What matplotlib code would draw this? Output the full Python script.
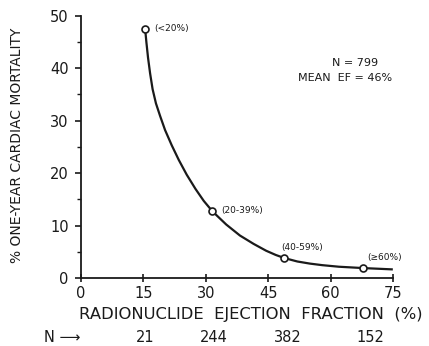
import matplotlib
matplotlib.use("Agg")
import matplotlib.pyplot as plt
from matplotlib.ticker import MultipleLocator

############################################
# DATA
############################################

# fitted curve, sampled by eye along the drawn line
curve_ef = [15.4, 15.7, 16.1, 16.6, 17.2, 18.0, 19.0, 20.2, 21.8, 23.5, 25.4,
            27.5, 29.5, 31.6, 34.9, 38.2, 41.5, 44.5, 46.8, 48.9, 52.0,
            55.0, 58.0, 62.0, 67.7, 74.7]
curve_mort = [47.5, 45.0, 42.0, 39.0, 36.0, 33.3, 30.9, 28.2, 25.3, 22.5, 19.7,
              17.0, 14.7, 12.7, 10.2, 8.1, 6.5, 5.2, 4.4, 3.8, 3.15,
              2.75, 2.45, 2.15, 1.9, 1.65]

# group means (open circles)
group_ef = [15.4, 31.6, 48.9, 67.7]
group_mort = [47.5, 12.7, 3.8, 1.9]
group_labels = ["(<20%)", "(20-39%)", "(40-59%)", "(\u226560%)"]
group_n = ["21", "244", "382", "152"]
n_label_x = [15.4, 31.8, 49.8, 69.5]

x_ticks = [0, 15, 30, 45, 60, 75]
y_ticks = [0, 10, 20, 30, 40, 50]

############################################
# PLOT
############################################

ink = "#1a1a1a"
plt.rcParams["font.family"] = ["DejaVu Sans"]

fig = plt.figure(figsize=(4.29, 3.46), dpi=100)
ax = fig.add_axes([0.189, 0.1965, 0.727, 0.758])

ax.plot(curve_ef, curve_mort, color=ink, lw=1.6, zorder=2,
        solid_joinstyle="round")
ax.plot(group_ef, group_mort, "o", ms=5, mfc="white", mec=ink, mew=1.2, zorder=3)

# group labels
ax.text(17.6, 47.5, group_labels[0], fontsize=6.5, color=ink, ha="left", va="center")
ax.text(33.8, 12.8, group_labels[1], fontsize=6.5, color=ink, ha="left", va="center")
ax.text(48.2, 5.9, group_labels[2], fontsize=6.5, color=ink, ha="left", va="center")
ax.text(68.8, 4.0, group_labels[3], fontsize=6.5, color=ink, ha="left", va="center")

ax.text(66.0, 41.0, "N = 799", fontsize=8, color=ink, ha="center", va="center")
ax.text(63.6, 38.2, "MEAN  EF = 46%", fontsize=8, color=ink, ha="center", va="center")

ax.set_xlim(0, 75)
ax.set_ylim(0, 50)
ax.set_xticks(x_ticks)
ax.set_yticks(y_ticks)
ax.yaxis.set_minor_locator(MultipleLocator(5))

for side in ["top", "right"]:
    ax.spines[side].set_visible(False)
for side in ["left", "bottom"]:
    ax.spines[side].set_linewidth(1.3)
    ax.spines[side].set_color(ink)

ax.tick_params(axis="y", which="major", direction="out", length=4, width=1.2,
               pad=5, labelsize=10.5, colors=ink)
ax.tick_params(axis="y", which="minor", direction="out", length=3, width=1.0, colors=ink)
ax.tick_params(axis="x", which="major", direction="inout", length=6, width=1.2,
               pad=2.5, labelsize=10.5, colors=ink)

ax.set_ylabel("% ONE-YEAR CARDIAC MORTALITY", fontsize=10, color=ink)
ax.yaxis.set_label_coords(-0.205, 0.505)
ax.set_xlabel("RADIONUCLIDE  EJECTION  FRACTION  (%)", fontsize=11.8, color=ink)
ax.xaxis.set_label_coords(0.545, -0.141)
ax.xaxis.label.set_va("center")
ax.yaxis.label.set_va("center")

# N row under the x axis
xt = ax.get_xaxis_transform()
ax.text(-4.6, -0.225, "N \u27f6", fontsize=10.5, color=ink, ha="center", va="center",
        transform=xt, clip_on=False)
for x, n in zip(n_label_x, group_n):
    ax.text(x, -0.225, n, fontsize=10.5, color=ink, ha="center", va="center",
            transform=xt, clip_on=False)

fig.savefig("out.png", dpi=100)
plt.close(fig)
